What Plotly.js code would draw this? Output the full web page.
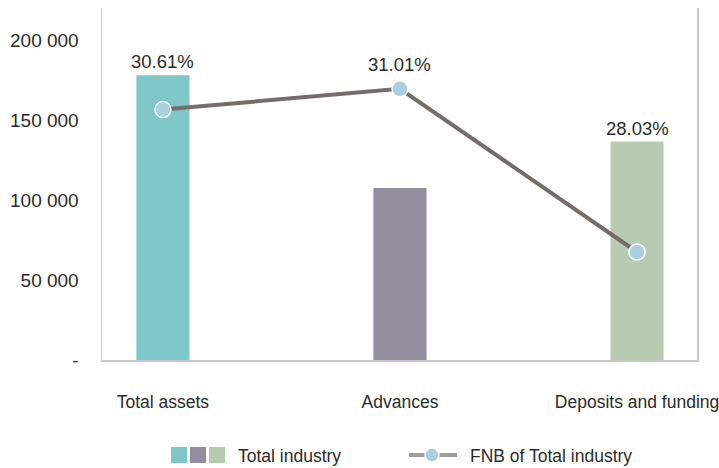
<!DOCTYPE html>
<html>
<head>
<meta charset="utf-8">
<script src="https://cdn.plot.ly/plotly-3.0.1.min.js"></script>
<style>html,body{margin:0;padding:0;background:#fff;}#chart{width:719px;height:468px;}</style>
</head>
<body>
<div id="chart"></div>
<script>
const categories = ["Total assets", "Advances", "Deposits and funding"];
const totalIndustry = [178000, 107500, 136500];
const fnbOfTotal = [156500, 169500, 67500];
const shareLabels = ["30.61%", "31.01%", "28.03%"];
const barColors = ["#7fc6c8", "#928e9f", "#b6cbb0"];
const yTickVals = [0, 50000, 100000, 150000, 200000];
const yTickText = ["-", "50 000", "100 000", "150 000", "200 000"];
const legendBarText = "Total industry";
const legendLineText = "FNB of Total industry";

const font = "Liberation Sans, Arial, Helvetica, sans-serif";
const textColor = "#2b2b2b";

const traces = [
  {
    type: "bar", x: categories, y: totalIndustry, width: 0.224,
    marker: {color: barColors}, showlegend: false, hoverinfo: "skip"
  },
  {
    type: "scatter", mode: "lines+markers", x: categories, y: fnbOfTotal,
    line: {color: "#746d6a", width: 4},
    marker: {size: 16, color: "#a9cfe1", line: {color: "#ffffff", width: 1.5}},
    showlegend: false, hoverinfo: "skip"
  }
];

const annotations = categories.map((c, i) => {
  const lineAbove = fnbOfTotal[i] > totalIndustry[i];
  return {
    x: c, y: Math.max(fnbOfTotal[i], totalIndustry[i]),
    text: shareLabels[i], showarrow: false, xref: "x", yref: "y",
    yanchor: "bottom", yshift: lineAbove ? 12 : 1,
    font: {family: font, size: 18.5, color: textColor}
  };
});

// legend (drawn manually)
annotations.push({
  xref: "paper", yref: "paper", x: (236 - 102) / 595, y: (360 - 456) / 352,
  xanchor: "left", yanchor: "middle", showarrow: false, text: legendBarText,
  font: {family: font, size: 17.5, color: textColor}
});
annotations.push({
  xref: "paper", yref: "paper", x: (468 - 102) / 595, y: (360 - 456) / 352,
  xanchor: "left", yanchor: "middle", showarrow: false, text: legendLineText,
  font: {family: font, size: 17.5, color: textColor}
});

function px(x) { return (x - 102) / 595; }
function py(y) { return (360 - y) / 352; }
const shapes = [];
barColors.forEach((col, i) => {
  const x0 = 171 + i * 19;
  shapes.push({type: "rect", xref: "paper", yref: "paper",
    x0: px(x0), x1: px(x0 + 16), y0: py(463), y1: py(447),
    fillcolor: col, line: {width: 0}});
});
shapes.push({type: "line", xref: "paper", yref: "paper",
  x0: px(409), x1: px(457), y0: py(455), y1: py(455),
  line: {color: "#a39d99", width: 4}});
shapes.push({type: "circle", xref: "paper", yref: "paper",
  x0: px(425), x1: px(439), y0: py(462), y1: py(448),
  fillcolor: "#a9cfe1", line: {color: "#ffffff", width: 1.5}});

const layout = {
  width: 719, height: 468,
  margin: {l: 102, r: 22, t: 8, b: 108},
  paper_bgcolor: "#ffffff", plot_bgcolor: "#ffffff",
  showlegend: false,
  font: {family: font, color: textColor},
  xaxis: {
    type: "category", range: [-0.257, 2.253],
    showgrid: false, zeroline: false, showline: true,
    linecolor: "#c8c8c8", linewidth: 1.5, ticks: "",
    tickfont: {family: font, size: 17.5, color: textColor},
    ticklabelstandoff: 25
  },
  yaxis: {
    range: [0, 220000], showgrid: false, zeroline: false,
    showline: true, mirror: true, linecolor: "#c8c8c8", linewidth: 1.5,
    ticks: "", tickvals: yTickVals, ticktext: yTickText,
    tickfont: {family: font, size: 19, color: textColor},
    ticklabelstandoff: 18
  },
  annotations: annotations,
  shapes: shapes
};

Plotly.newPlot("chart", traces, layout, {staticPlot: true, displayModeBar: false});
</script>
</body>
</html>
